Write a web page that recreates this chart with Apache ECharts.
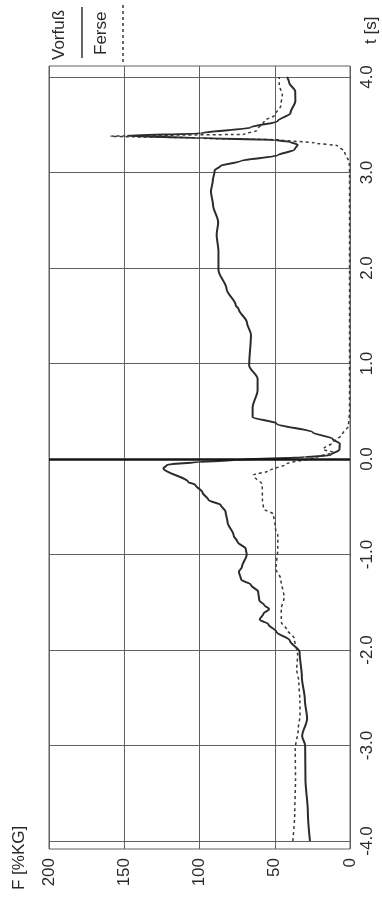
<!DOCTYPE html>
<html>
<head>
<meta charset="utf-8">
<script src="https://cdn.jsdelivr.net/npm/echarts@6/dist/echarts.min.js"></script>
<style>
html,body{margin:0;padding:0;background:#fff;}
#chart{width:382px;height:898px;}
</style>
</head>
<body>
<div id="chart"></div>
<script>
// ---- data (time in s, force in %KG) ----
const fTicks = [0, 50, 100, 150, 200];
const tTicks = [-4, -3, -2, -1, 0, 1, 2, 3, 4];

const tVorfuss = [-4.0,-3.7,-3.35,-3.0,-2.9,-2.72,-2.52,-2.28,-2.02,-1.9,-1.81,-1.73,-1.68,-1.62,-1.57,-1.53,-1.48,-1.39,-1.32,-1.26,-1.18,-1.13,-1.0,-0.94,-0.87,-0.8,-0.66,-0.55,-0.48,-0.43,-0.35,-0.27,-0.24,-0.1,-0.06,-0.03,-0.01,0.02,0.04,0.1,0.16,0.21,0.28,0.37,0.44,0.54,0.72,0.84,0.98,1.3,1.43,1.57,1.61,1.78,1.98,2.17,2.35,2.48,2.66,2.8,2.91,3.02,3.07,3.12,3.18,3.24,3.29,3.32,3.34,3.36,3.385,3.41,3.47,3.54,3.62,3.75,3.85,3.94,4.0];
const fVorfuss = [26.6,28,29.6,29.8,31.8,28.5,30,32,33.5,40,48.9,54.3,60,57.5,53.7,57,60.3,61,65.8,72.4,73.8,71.8,68.6,69.3,74.7,77.3,81.4,82.7,86,94,98,102.8,107.5,124,121.5,100,75,30,13,7,6.8,11.5,24.8,48.7,64.7,64.7,61.4,61.4,67,65.8,68.5,74,75.9,82,87.4,87.4,88.6,87.6,91,92.4,91.2,89.9,86,72.7,48,36.8,34.8,39.5,50,100,147.8,99.4,66,48,39.6,36.3,36.4,40.4,41.8];

const tFerse = [-4.0,-3.7,-3.35,-3.04,-2.83,-2.68,-2.54,-2.33,-2.2,-2.05,-1.88,-1.78,-1.71,-1.57,-1.45,-1.26,-1.15,-0.94,-0.8,-0.73,-0.58,-0.52,-0.42,-0.27,-0.17,-0.12,-0.05,0.02,0.07,0.1,0.18,0.26,0.35,0.5,1.0,2.0,3.0,3.1,3.22,3.28,3.31,3.34,3.36,3.38,3.39,3.40,3.44,3.54,3.6,3.7,3.81,3.92,4.0];
const fFerse = [38,36.7,36.2,36.4,34.4,33.2,33.3,34,35.4,34.8,37,42.3,45.6,45.7,43.8,45.9,49.2,48,48,49.5,50.8,57.5,58.2,58.3,64.3,53,41.8,21.9,11.3,18,11,5,1,0.3,0.3,0.3,0.3,0.5,3.6,8.2,23.5,46,100,159,120,70,62,57,50,46,45,47,47];

const seriesNames = ['Vorfuß', 'Ferse'];
const xLabelName = 'F [%KG]';
const yLabelName = 't [s]';
const eventTime = 0;

// ---- chart ----
const FONT = '"Liberation Sans", Arial, sans-serif';
const FS = 17;
const TXT = '#2a2a2a';
const GRIDC = '#606060';

const chart = echarts.init(document.getElementById('chart'), null, {renderer: 'canvas'});

const pairs = (ts, fs) => ts.map((t, i) => [fs[i], t]);

chart.setOption({
  animation: false,
  backgroundColor: '#ffffff',
  grid: [
    {left: 49, right: 32, top: 66, bottom: 49, show: true, borderColor: GRIDC, borderWidth: 1},
    {left: 49, right: 32, top: 77, bottom: 57, show: false}
  ],
  xAxis: [
    {
      gridIndex: 0, type: 'value', inverse: true, min: fTicks[0], max: fTicks[fTicks.length - 1], interval: 50,
      axisLine: {show: false}, axisTick: {show: false},
      splitLine: {show: true, lineStyle: {color: GRIDC, width: 1}},
      axisLabel: {rotate: 90, margin: 9, fontSize: FS, color: TXT, fontFamily: FONT}
    },
    {
      gridIndex: 1, type: 'value', inverse: true, min: 0, max: 200, show: false
    }
  ],
  yAxis: [
    {gridIndex: 0, type: 'value', min: 0, max: 1, show: false},
    {
      gridIndex: 1, type: 'value', position: 'right', min: tTicks[0], max: tTicks[tTicks.length - 1], interval: 1,
      axisLine: {show: false}, axisTick: {show: false},
      splitLine: {show: true, lineStyle: {color: GRIDC, width: 1}},
      axisLabel: {rotate: 90, margin: 9, fontSize: FS, color: TXT, fontFamily: FONT,
        formatter: v => v.toFixed(1)}
    }
  ],
  series: [
    {
      name: seriesNames[0], type: 'line', xAxisIndex: 1, yAxisIndex: 1,
      data: pairs(tVorfuss, fVorfuss), showSymbol: false, smooth: 0.3, smoothMonotone: 'y',
      lineStyle: {color: '#2c2c2c', width: 2},
      markLine: {
        silent: true, symbol: 'none', label: {show: false},
        lineStyle: {color: '#151515', width: 2.5, type: 'solid'},
        data: [{yAxis: eventTime}]
      },
      z: 3
    },
    {
      name: seriesNames[1], type: 'line', xAxisIndex: 1, yAxisIndex: 1,
      data: pairs(tFerse, fFerse), showSymbol: false, smooth: 0.3, smoothMonotone: 'y',
      lineStyle: {color: '#3a3a3a', width: 1.5, type: [3, 3]},
      z: 2
    }
  ],
  graphic: [
    {type: 'text', x: 19, y: 890, rotation: Math.PI / 2,
      style: {text: xLabelName, fill: TXT, font: FS + 'px ' + FONT, textAlign: 'left', textVerticalAlign: 'middle', verticalAlign: 'middle'}},
    {type: 'text', x: 371, y: 44, rotation: Math.PI / 2,
      style: {text: yLabelName, fill: TXT, font: FS + 'px ' + FONT, textAlign: 'left', textVerticalAlign: 'middle', verticalAlign: 'middle'}},
    {type: 'text', x: 59, y: 60, rotation: Math.PI / 2,
      style: {text: seriesNames[0], fill: TXT, font: FS + 'px ' + FONT, textAlign: 'left', textVerticalAlign: 'middle', verticalAlign: 'middle'}},
    {type: 'line', shape: {x1: 82, y1: 7, x2: 82, y2: 58}, style: {stroke: '#303030', lineWidth: 1.5}},
    {type: 'text', x: 101, y: 55, rotation: Math.PI / 2,
      style: {text: seriesNames[1], fill: TXT, font: FS + 'px ' + FONT, textAlign: 'left', textVerticalAlign: 'middle', verticalAlign: 'middle'}},
    {type: 'line', shape: {x1: 123, y1: 5, x2: 123, y2: 62}, style: {stroke: '#3a3a3a', lineWidth: 1.5, lineDash: [3, 3]}}
  ]
});
</script>
</body>
</html>
